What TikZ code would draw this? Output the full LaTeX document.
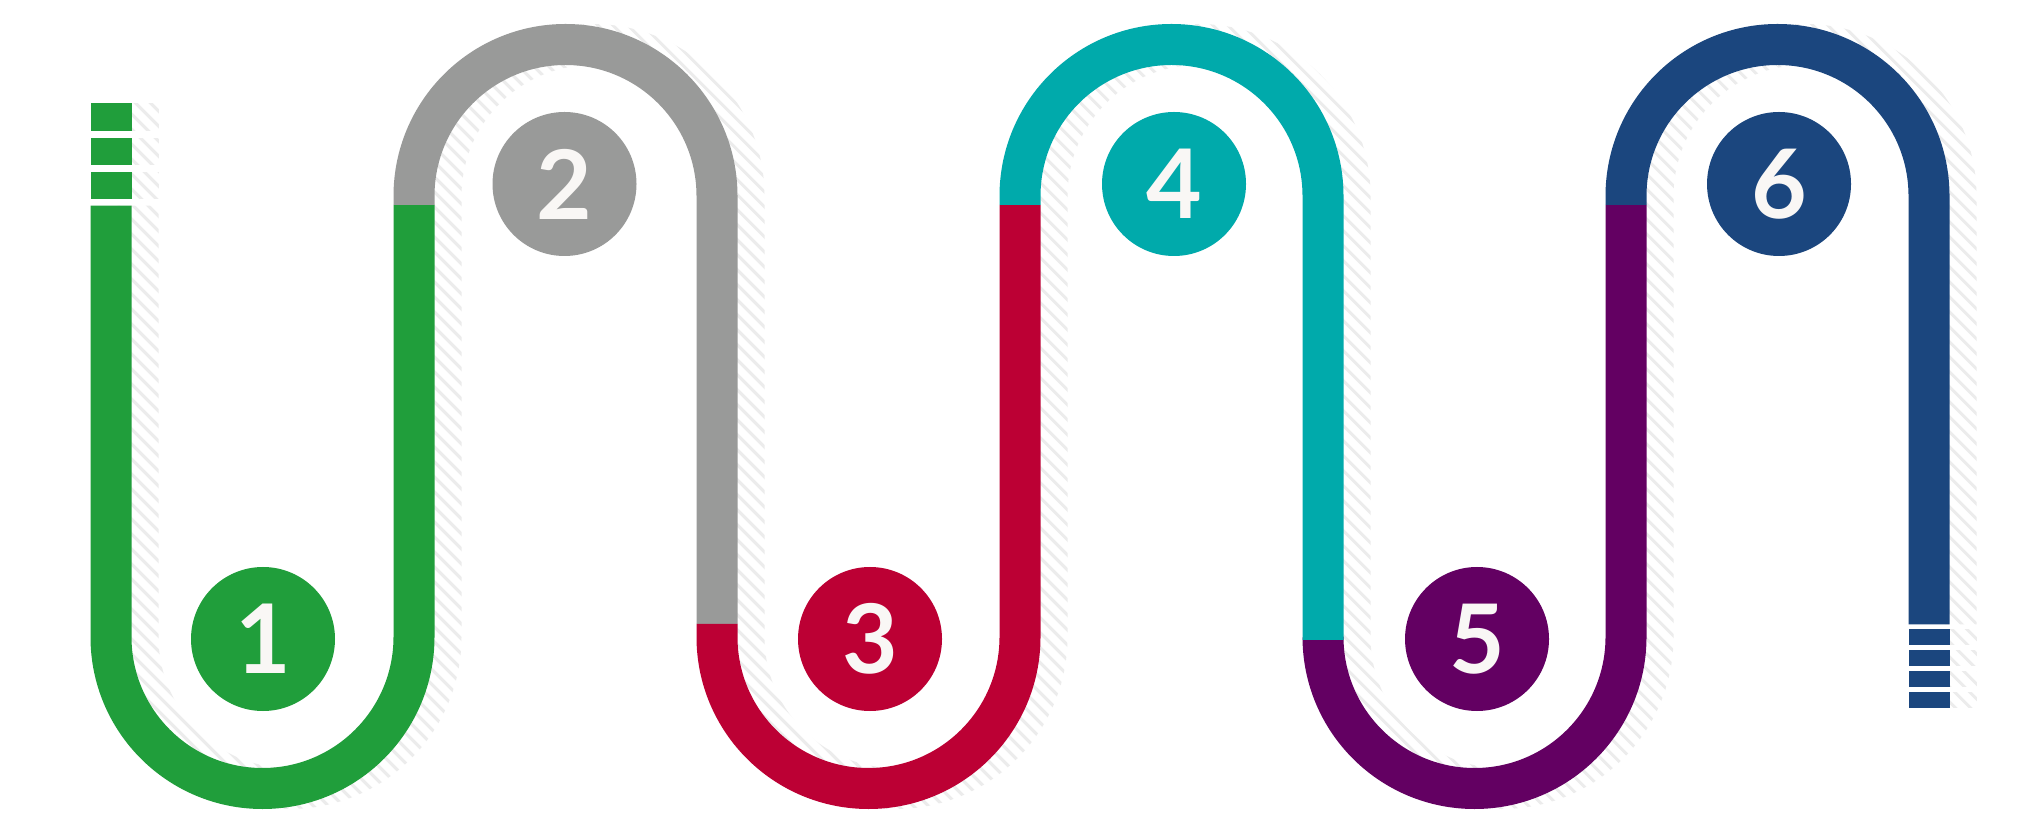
\documentclass[tikz,border=0pt]{standalone}
\usepackage{fontspec}
\newfontfamily\numfont{Lato}
\definecolor{cgreen}{RGB}{32,158,59}
\definecolor{cgray}{RGB}{153,154,153}
\definecolor{cred}{RGB}{188,0,52}
\definecolor{cteal}{RGB}{0,170,171}
\definecolor{cpurple}{RGB}{99,0,98}
\definecolor{cnavy}{RGB}{27,70,126}
\definecolor{shadowgray}{RGB}{236,236,236}
\definecolor{numwhite}{RGB}{249,247,245}
\tikzset{
  band/.style={line width=41pt},
  shadowband/.style={line width=41pt, draw=shadowgray},
  hatchline/.style={draw=white, line width=7.4pt},
  stepdot/.style={circle, inner sep=0pt, minimum size=144pt, text=numwhite,
    font=\numfont\bfseries\fontsize{96}{96}\selectfont},
}
\begin{document}
\begin{tikzpicture}[x=1pt,y=1pt]
\useasboundingbox (0,0) rectangle (2036,830);
\fill[white] (0,0) rectangle (2036,830);

% ---- hatched shadow (the whole route shifted right) ----
\begin{scope}[xshift=27pt]
  \draw[shadowband] (111,624.3) -- (111,193)
    arc[start angle=180,end angle=360,radius=151.5] -- (414,634)
    arc[start angle=180,end angle=0,radius=151.5] -- (717,193)
    arc[start angle=180,end angle=360,radius=151.5] -- (1020,634)
    arc[start angle=180,end angle=0,radius=151.5] -- (1323,193)
    arc[start angle=180,end angle=360,radius=151.5] -- (1626,634)
    arc[start angle=180,end angle=0,radius=151.5] -- (1929,205.7);
  \fill[shadowgray] (90.5,699.3) rectangle (131.5,726.7);
  \fill[shadowgray] (90.5,665) rectangle (131.5,692.3);
  \fill[shadowgray] (90.5,631) rectangle (131.5,658);
  \fill[shadowgray] (1908.5,185) rectangle (1949.5,201);
  \fill[shadowgray] (1908.5,164) rectangle (1949.5,180);
  \fill[shadowgray] (1908.5,143) rectangle (1949.5,159);
  \fill[shadowgray] (1908.5,122) rectangle (1949.5,138);
\end{scope}
\begin{scope}
  \clip (0,0) rectangle (2036,830);
  \foreach \c in {0,15,...,2880}
    \draw[hatchline] (\c,0) -- ({\c-830},830);
\end{scope}

% ---- coloured route ----
\fill[cgreen] (90.5,699.3) rectangle (131.5,726.7);
\fill[cgreen] (90.5,665) rectangle (131.5,692.3);
\fill[cgreen] (90.5,631) rectangle (131.5,658);
\draw[band, cgreen] (111,624.3) -- (111,193)
  arc[start angle=180,end angle=360,radius=151.5] -- (414,625);
\draw[band, cgray] (414,625) -- (414,634)
  arc[start angle=180,end angle=0,radius=151.5] -- (717,206);
\draw[band, cred] (717,206) -- (717,193)
  arc[start angle=180,end angle=360,radius=151.5] -- (1020,625);
\draw[band, cpurple] (1323,193)
  arc[start angle=180,end angle=360,radius=151.5] -- (1626,625);
\draw[band, cteal] (1020,625) -- (1020,634)
  arc[start angle=180,end angle=0,radius=151.5] -- (1323,190);
\draw[band, cnavy] (1626,625) -- (1626,634)
  arc[start angle=180,end angle=0,radius=151.5] -- (1929,205.7);
\fill[cnavy] (1908.5,185) rectangle (1949.5,201);
\fill[cnavy] (1908.5,164) rectangle (1949.5,180);
\fill[cnavy] (1908.5,143) rectangle (1949.5,159);
\fill[cnavy] (1908.5,122) rectangle (1949.5,138);

% ---- numbered discs ----
\node[stepdot, fill=cgreen]  (c1) at (263,191) {1};
\node[stepdot, fill=cgray]   (c2) at (564.5,646) {2};
\node[stepdot, fill=cred]    (c3) at (870,191) {3};
\node[stepdot, fill=cteal]   (c4) at (1174,646) {4};
\node[stepdot, fill=cpurple] (c5) at (1477,191) {5};
\node[stepdot, fill=cnavy]   (c6) at (1779,646) {6};
\end{tikzpicture}
\end{document}
